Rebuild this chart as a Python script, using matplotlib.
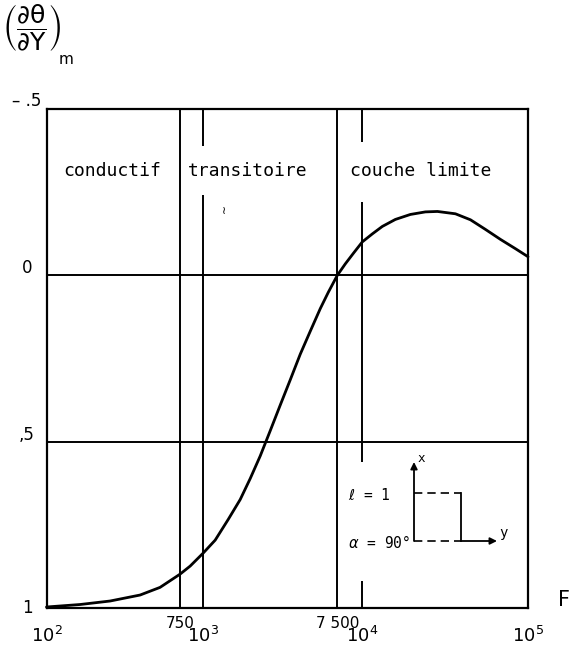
import numpy as np
import matplotlib
matplotlib.use('Agg')
import matplotlib.pyplot as plt
from matplotlib.transforms import blended_transform_factory
from matplotlib.lines import Line2D
from matplotlib.patches import FancyArrowPatch
from matplotlib.ticker import NullLocator

# ---------------- data ----------------
F = [100, 166, 261, 410, 554, 750, 850, 1000, 1198, 1456, 1744, 2027, 2356,
     2739, 3183, 3700, 4299, 4996, 5807, 6550, 7500, 8222, 9016, 10000,
     11494, 13205, 15825, 19500, 24030, 28400, 36470, 44940, 55370, 68210,
     84050, 100000]
dtheta_dY = [0.997, 0.9895, 0.979, 0.961, 0.938, 0.898, 0.874, 0.835, 0.796,
             0.734, 0.674, 0.611, 0.543, 0.467, 0.390, 0.314, 0.237, 0.168,
             0.100, 0.051, 0.0, -0.0345, -0.066, -0.1006, -0.1246, -0.147,
             -0.168, -0.183, -0.1907, -0.192, -0.185, -0.167, -0.138, -0.108,
             -0.080, -0.056]

region_labels = ['conductif', 'transitoire', 'couche limite']
region_starts = [128, 828, 8710]

xtick_values = [1e2, 1e3, 1e4, 1e5]
xtick_labels = [r'$10^{2}$', r'$10^{3}$', r'$10^{4}$', r'$10^{5}$']
marked_values = [750, 7500]
marked_labels = ['750', '7 500']
ytick_values = [-0.5, 0.0, 0.5, 1.0]
ytick_labels = ['\u2013 .5', '0', ',5', '1']

# vertical reference lines (value -> list of (y_from, y_to) segments)
vlines = {750: [(-0.5, 1.0)],
          1000: [(-0.5, -0.39), (-0.24, 1.0)],
          7500: [(-0.5, 1.0)],
          10000: [(-0.5, -0.40), (-0.22, 0.56), (0.92, 1.0)]}
hlines = [0.0, 0.5]

# ---------------- figure ----------------
W, H = 574, 649
plt.rcParams['mathtext.fontset'] = 'dejavusans'
plt.rcParams['font.family'] = ['DejaVu Sans']
MONO = ['DejaVu Sans Mono', 'DejaVu Sans']
fig = plt.figure(figsize=(W / 100, H / 100), dpi=100)
L, R, T, B = 46.5, 528, 109, 608
ax = fig.add_axes([L / W, 1 - B / H, (R - L) / W, (B - T) / H])

knots_log = [1, 2, 2.875, 3, 3.875, 4, 5, 6]
knots_pos = [-156.5, 0, 133.5, 156.5, 290.5, 315.5, 481, 646.5]


def fwd(x):
    x = np.asarray(x, dtype=float)
    return np.interp(np.log10(np.clip(x, 1e-12, None)), knots_log, knots_pos)


def inv(p):
    p = np.asarray(p, dtype=float)
    return 10 ** np.interp(p, knots_pos, knots_log)


ax.set_xscale('function', functions=(fwd, inv))
ax.set_xlim(100, 1e5)
ax.set_ylim(1.0, -0.5)
for a in (ax.xaxis, ax.yaxis):
    a.set_major_locator(NullLocator())
    a.set_minor_locator(NullLocator())
for s in ax.spines.values():
    s.set_linewidth(1.6)

for v, segs in vlines.items():
    for y0, y1 in segs:
        ax.plot([v, v], [y0, y1], color='black', lw=1.4, solid_capstyle='butt')
for h in hlines:
    ax.axhline(h, color='black', lw=1.4)

ax.plot(F, dtheta_dY, color='black', lw=2.0, solid_joinstyle='round',
        solid_capstyle='round', clip_on=False, zorder=5)

for lab, x0 in zip(region_labels, region_starts):
    ax.text(x0, -0.315, lab, fontsize=13, ha='left', va='center',
            family=MONO)

# tick labels
bt = blended_transform_factory(ax.transData, fig.transFigure)
for v, lab in zip(xtick_values, xtick_labels):
    ax.text(v, 1 - 636 / H, lab, transform=bt, fontsize=13, ha='center',
            va='center')
for v, lab in zip(marked_values, marked_labels):
    ax.text(v, 1 - 623 / H, lab, transform=bt, fontsize=11, ha='center',
            va='center')
lt = blended_transform_factory(fig.transFigure, ax.transData)
ylab_off = [-0.025, -0.022, -0.02, 0.0]
for v, lab, o in zip(ytick_values, ytick_labels, ylab_off):
    ax.text(27 / W, v + o, lab, transform=lt, fontsize=12, ha='center',
            va='center')

# axis titles
fig.text(2 / W, 1 - 2 / H,
         r'$\left(\dfrac{\partial\mathrm{\theta}}{\partial\mathrm{Y}}'
         r'\right)$',
         fontsize=18, ha='left', va='top')
fig.text(59 / W, 1 - 60 / H, 'm', fontsize=11, ha='left', va='center')
fig.text(564 / W, 1 - 600 / H, 'F', fontsize=15, ha='center', va='center')


# inset sketch (figure pixel coordinates)
def P(x, y):
    return (x / W, 1 - y / H)


ft = fig.transFigure
xa, ytop, ybot, xr, xend = 414, 492.5, 541, 461, 497
for yy in (ytop, ybot):
    fig.add_artist(Line2D([P(xa, yy)[0], P(xr, yy)[0]],
                          [P(xa, yy)[1], P(xr, yy)[1]], transform=ft,
                          color='black', lw=1.2, dashes=(5, 3)))
fig.add_artist(Line2D([P(xr, ytop)[0], P(xr, ybot)[0]],
                      [P(xr, ytop)[1], P(xr, ybot)[1]], transform=ft,
                      color='black', lw=1.3))
fig.add_artist(FancyArrowPatch(P(xr, ybot), P(xend, ybot), transform=ft,
                               arrowstyle='-|>,head_length=4,head_width=2',
                               color='black', lw=1.3, shrinkA=0, shrinkB=0))
fig.add_artist(FancyArrowPatch(P(xa, ybot), P(xa, 462), transform=ft,
                               arrowstyle='-|>,head_length=4,head_width=2',
                               color='black', lw=1.3, shrinkA=0, shrinkB=0))
fig.text(*P(421, 459), 'x', fontsize=9, ha='center', va='center', family=MONO)
fig.text(*P(503, 533), 'y', fontsize=10, ha='center', va='center',
         family=MONO)
fig.text(*P(348, 495), r'$\ell$ = 1', fontsize=10.5, ha='left', va='center',
         family=MONO)
fig.text(*P(348, 543), r'$\alpha$ = 90°', fontsize=10.5, ha='left',
         va='center', family=MONO)
# small stray pen mark visible in the scanned original
fig.text(*P(224, 211), '\u2240', fontsize=8, ha='center', va='center')

fig.savefig('out.png', dpi=100)
